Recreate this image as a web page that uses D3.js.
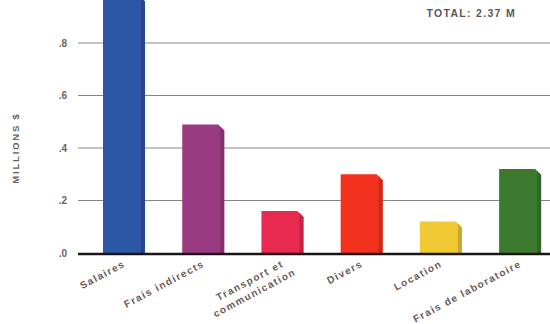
<!DOCTYPE html>
<html>
<head>
<meta charset="utf-8">
<script src="https://cdn.jsdelivr.net/npm/d3@7"></script>
<style>
  html, body { margin: 0; padding: 0; background: #fff; }
  svg { display: block; }
  text { font-family: "Liberation Sans", Arial, sans-serif; }
</style>
</head>
<body>
<svg id="chart" width="550" height="324"></svg>
<script>
// Dépenses par poste (millions $)
const categories = ["Salaires", "Frais indirects", "Transport et\ncommunication", "Divers", "Location", "Frais de laboratoire"];
const values = [0.98, 0.49, 0.16, 0.30, 0.12, 0.32];
const colors = ["#2c56a6", "#9a3a80", "#e82a50", "#f2321f", "#f1c935", "#3b7a2f"];
const yTicks = [0, 0.2, 0.4, 0.6, 0.8];
const yTickLabels = [".0", ".2", ".4", ".6", ".8"];
const totalLabel = "TOTAL: 2.37 M";
const yTitle = "MILLIONS $";

const svg = d3.select("#chart");
const left = 78, right = 550, base = 253;

const x = d3.scaleBand().domain(categories).range([83.2, 560.9]).paddingInner(0.47).paddingOuter(0.25);
const y = d3.scaleLinear().domain([0, 0.8]).range([base, 43]);

// grille horizontale
svg.append("g").selectAll("line").data(yTicks.filter(d => d > 0)).join("line")
  .attr("x1", left).attr("x2", right)
  .attr("y1", d => y(d)).attr("y2", d => y(d))
  .attr("stroke", "#8a8585").attr("stroke-width", 1.2);

// étiquettes de l'axe vertical
svg.append("g").selectAll("text").data(yTicks).join("text")
  .attr("x", 67).attr("y", d => y(d) + 3.5)
  .attr("text-anchor", "end")
  .attr("font-size", 10).attr("font-weight", "bold").attr("fill", "#6a6262")
  .text((d, i) => yTickLabels[i]);

svg.append("text")
  .attr("transform", `translate(19,148) rotate(-90)`)
  .attr("text-anchor", "middle")
  .attr("font-size", 9.5).attr("font-weight", "bold").attr("fill", "#6a6262")
  .attr("letter-spacing", 1.8)
  .text(yTitle);

svg.append("text")
  .attr("x", 516).attr("y", 17)
  .attr("text-anchor", "end")
  .attr("font-size", 10.5).attr("font-weight", "bold").attr("fill", "#5e5656")
  .attr("letter-spacing", 1.3)
  .text(totalLabel);

// barres avec coin biseauté et tranche latérale plus sombre
const bev = 6, side = 4;
const bars = svg.append("g").selectAll("g").data(categories).join("g");
bars.append("path")
  .attr("d", (c, i) => {
    const x0 = x(c), w = x.bandwidth(), yt = y(values[i]);
    return `M${x0},${base} L${x0},${yt} L${x0 + w - bev},${yt} L${x0 + w},${yt + bev} L${x0 + w},${base} Z`;
  })
  .attr("fill", (c, i) => colors[i]);
bars.append("path")
  .attr("d", (c, i) => {
    const x0 = x(c), w = x.bandwidth(), yt = y(values[i]);
    return `M${x0 + w - side},${base} L${x0 + w - side},${yt + bev - side} L${x0 + w},${yt + bev} L${x0 + w},${base} Z`;
  })
  .attr("fill", (c, i) => d3.color(colors[i]).darker(0.5));

// ligne de base
svg.append("line")
  .attr("x1", left).attr("x2", right).attr("y1", base + 1).attr("y2", base + 1)
  .attr("stroke", "#1a1414").attr("stroke-width", 2.5);

// étiquettes des catégories, inclinées
const lab = svg.append("g").selectAll("text").data(categories).join("text")
  .attr("transform", c => `translate(${x(c) + x.bandwidth() / 2 + 2},${base + 13}) rotate(-28)`)
  .attr("text-anchor", "end")
  .attr("font-size", 10).attr("font-weight", "bold").attr("fill", "#6b5a5a")
  .attr("letter-spacing", 1.4);
lab.each(function(c) {
  const lines = c.split("\n");
  const t = d3.select(this);
  lines.forEach((s, k) => {
    t.append("tspan").attr("x", k * 7).attr("dy", k === 0 ? 0 : 13).text(s);
  });
});
</script>
</body>
</html>
